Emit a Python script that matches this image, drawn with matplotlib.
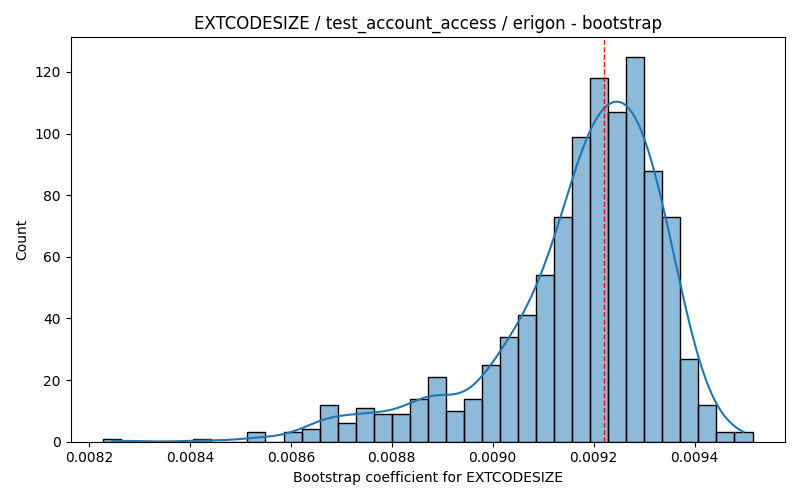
import numpy as np
import matplotlib
matplotlib.use("Agg")
import matplotlib.pyplot as plt
import seaborn as sns

# histogram: 36 equal bins, 1000 bootstrap samples
bin_lo = 0.008228
bin_hi = 0.009515
n_bins = 36
counts = [1, 0, 0, 0, 0, 1, 0, 0, 3, 0,
          3, 4, 12, 6, 11, 9, 9, 14, 21, 10,
          14, 25, 34, 41, 54, 73, 99, 118, 107, 125,
          88, 73, 27, 12, 3, 3]
point_estimate = 0.009220

title = "EXTCODESIZE / test_account_access / erigon - bootstrap"
xlabel = "Bootstrap coefficient for EXTCODESIZE"

edges = np.linspace(bin_lo, bin_hi, n_bins + 1)
centers = (edges[:-1] + edges[1:]) / 2
# expand the histogram back to one value per sample (bin centre)
samples = np.repeat(centers, counts)

fig, ax = plt.subplots(figsize=(8, 5), dpi=100)
sns.histplot(samples, bins=edges, kde=True, ax=ax, edgecolor="black")
ax.axvline(point_estimate, color="red", linestyle="--", linewidth=1)
ax.set_title(title)
ax.set_xlabel(xlabel)
ax.set_ylabel("Count")
plt.tight_layout()
plt.savefig("out.png", dpi=100)
